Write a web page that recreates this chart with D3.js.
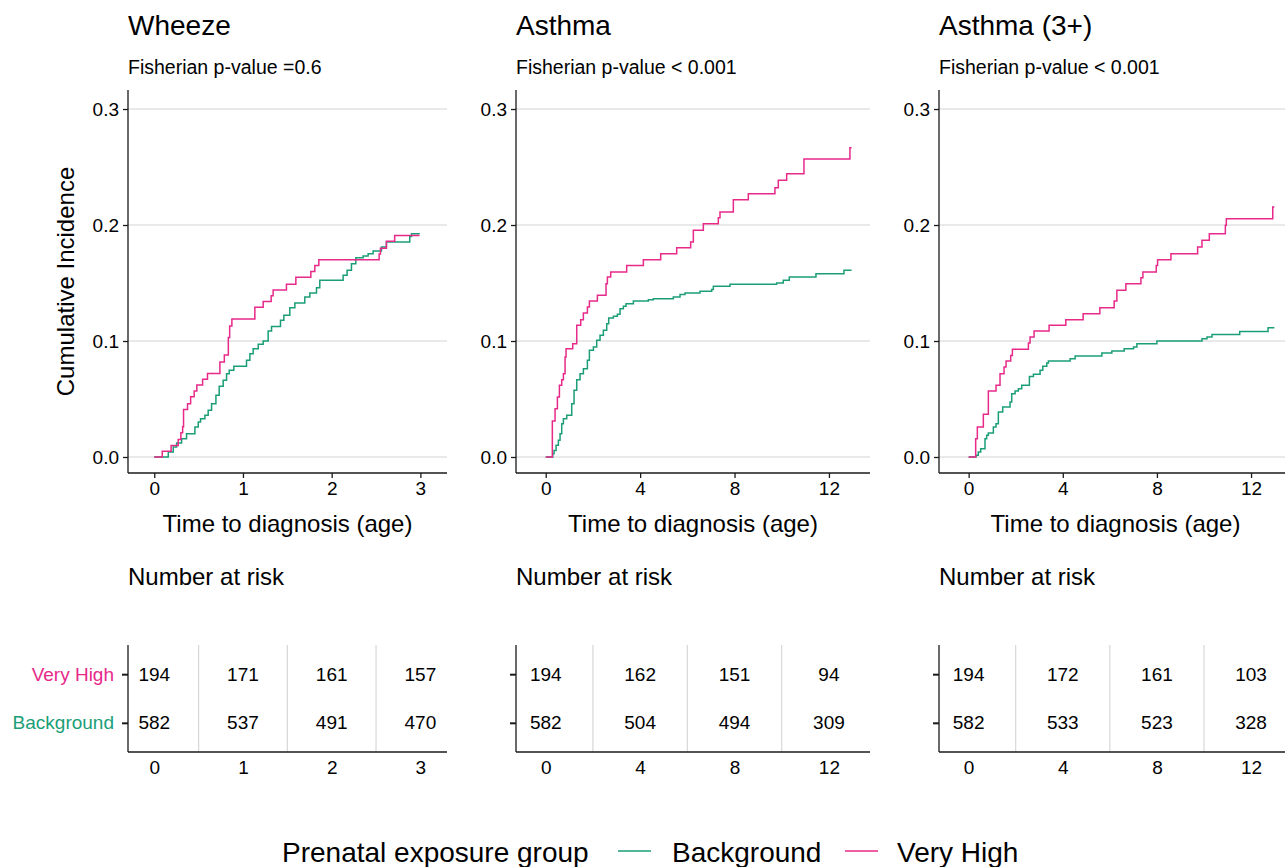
<!DOCTYPE html>
<html><head><meta charset="utf-8">
<script src="https://cdn.jsdelivr.net/npm/d3@7"></script>
<style>
body{margin:0;background:#fff}
svg{display:block}
text{font-family:"Liberation Sans",Arial,Helvetica,sans-serif}
</style>
</head><body>
<svg id="chart" width="1285" height="867"></svg>
<script>
// ---------------- DATA ----------------
const groups = ["Background", "Very High"];
const groupColors = ["#1B9E77", "#E7298A"];
const panelTitles = ["Wheeze", "Asthma", "Asthma (3+)"];
const panelSubtitles = ["Fisherian p-value =0.6", "Fisherian p-value < 0.001", "Fisherian p-value < 0.001"];
const yTicks = [0, 0.1, 0.2, 0.3];
const xTicksWheeze = [0, 1, 2, 3];
const xTicksAsthma = [0, 4, 8, 12];

// cumulative incidence step points [time, CI]
const wheezeVeryHigh = [[0,0],[0.09,0.005],[0.19,0.010],[0.27,0.015],[0.30,0.021],[0.32,0.026],[0.33,0.041],[0.375,0.046],[0.41,0.052],[0.45,0.057],[0.48,0.062],[0.545,0.067],[0.60,0.072],[0.74,0.082],[0.79,0.088],[0.835,0.103],[0.85,0.113],[0.875,0.119],[1.134,0.129],[1.228,0.134],[1.318,0.139],[1.34,0.144],[1.49,0.149],[1.596,0.155],[1.765,0.160],[1.81,0.165],[1.855,0.170],[2.535,0.175],[2.55,0.180],[2.617,0.186],[2.71,0.191],[2.99,0.191]];
const wheezeBackground = [[0,0],[0.158,0.0043],[0.214,0.0086],[0.252,0.0121],[0.308,0.0158],[0.364,0.0201],[0.458,0.0259],[0.496,0.0302],[0.522,0.033],[0.571,0.0359],[0.608,0.0402],[0.646,0.046],[0.695,0.0532],[0.732,0.0609],[0.777,0.0661],[0.815,0.0718],[0.845,0.0747],[0.897,0.0782],[1.04,0.0833],[1.078,0.0891],[1.115,0.0934],[1.172,0.0971],[1.228,0.1],[1.284,0.1086],[1.322,0.1126],[1.423,0.1178],[1.461,0.1221],[1.528,0.1287],[1.585,0.1328],[1.697,0.1379],[1.754,0.1414],[1.829,0.146],[1.866,0.1523],[2.129,0.1566],[2.174,0.1609],[2.223,0.1667],[2.272,0.1718],[2.354,0.1733],[2.411,0.1753],[2.467,0.1776],[2.561,0.181],[2.617,0.1853],[2.88,0.1902],[2.90,0.1925],[2.993,0.1925]];

const asthmaVeryHigh = [[0,0],[0.28,0.031],[0.395,0.0417],[0.494,0.0517],[0.579,0.0618],[0.678,0.0667],[0.748,0.0718],[0.819,0.0862],[0.861,0.0934],[1.144,0.0977],[1.313,0.1135],[1.482,0.1184],[1.595,0.1241],[1.765,0.1293],[1.85,0.1345],[2.188,0.1394],[2.555,0.1494],[2.612,0.1552],[2.753,0.1595],[3.43,0.1652],[4.137,0.1701],[4.871,0.1753],[5.549,0.1805],[6.141,0.1853],[6.254,0.1954],[6.678,0.2011],[7.313,0.2063],[7.384,0.2112],[7.949,0.2218],[8.584,0.227],[9.713,0.2322],[9.855,0.2385],[10.208,0.2443],[10.942,0.2569],[12.89,0.2667],[12.96,0.2667]];
const asthmaBackground = [[0,0],[0.296,0.0029],[0.353,0.0057],[0.438,0.0101],[0.536,0.0144],[0.607,0.0201],[0.678,0.0287],[0.748,0.033],[0.889,0.0359],[1.101,0.046],[1.2,0.0575],[1.313,0.0667],[1.454,0.0718],[1.595,0.0761],[1.765,0.0833],[1.85,0.092],[2.019,0.0948],[2.16,0.1006],[2.301,0.1049],[2.442,0.1092],[2.584,0.1149],[2.668,0.1198],[2.866,0.1213],[3.035,0.123],[3.148,0.1279],[3.29,0.1299],[3.402,0.1322],[3.713,0.1345],[4.348,0.1356],[4.56,0.1365],[5.407,0.1379],[5.69,0.1402],[5.901,0.1414],[6.537,0.1428],[7.031,0.1443],[7.102,0.1471],[7.808,0.1489],[9.784,0.15],[10.066,0.1523],[10.32,0.1552],[11.45,0.158],[12.636,0.1609],[12.96,0.1609]];

const asthma3VeryHigh = [[0,0],[0.298,0.0158],[0.369,0.0259],[0.624,0.0368],[0.837,0.0569],[1.163,0.0618],[1.333,0.0718],[1.504,0.0776],[1.589,0.0828],[1.787,0.0876],[1.858,0.0928],[2.539,0.0983],[2.61,0.1034],[2.78,0.1086],[3.418,0.1135],[4.128,0.1184],[4.865,0.1236],[5.574,0.1287],[6.184,0.1345],[6.298,0.1437],[6.681,0.1494],[7.319,0.1546],[7.404,0.1595],[7.972,0.1652],[8.028,0.1701],[8.596,0.1753],[9.73,0.181],[9.915,0.1868],[10.227,0.1925],[10.908,0.1997],[10.95,0.2055],[12.922,0.2155],[12.99,0.2155]];
const asthma3Background = [[0,0],[0.312,0.0014],[0.411,0.0043],[0.511,0.0072],[0.695,0.0158],[0.766,0.0187],[0.837,0.0207],[1.05,0.0259],[1.163,0.0287],[1.262,0.0388],[1.447,0.0431],[1.759,0.0474],[1.83,0.0546],[1.972,0.0569],[2.113,0.0589],[2.255,0.0618],[2.582,0.0695],[2.752,0.0713],[3.035,0.0747],[3.149,0.0782],[3.319,0.081],[3.39,0.0828],[4.312,0.0848],[4.525,0.0871],[5.66,0.0897],[6.085,0.0914],[6.61,0.0934],[7.007,0.0948],[7.149,0.0977],[8.0,0.1],[9.915,0.102],[10.128,0.1034],[10.34,0.1057],[11.518,0.1083],[12.723,0.1115],[12.99,0.1115]];

// number at risk (rows: Very High, Background)
const riskWheezeVeryHigh = [194, 171, 161, 157];
const riskWheezeBackground = [582, 537, 491, 470];
const riskAsthmaVeryHigh = [194, 162, 151, 94];
const riskAsthmaBackground = [582, 504, 494, 309];
const riskAsthma3VeryHigh = [194, 172, 161, 103];
const riskAsthma3Background = [582, 533, 523, 328];

// ---------------- LAYOUT ----------------
const svg = d3.select("#chart");
const panels = [
  {x0:128, x1:447, dom:[-0.296, 3.3], ticks:xTicksWheeze, bg:wheezeBackground, vh:wheezeVeryHigh, rVH:riskWheezeVeryHigh, rBG:riskWheezeBackground, ylab:true},
  {x0:516, x1:870, dom:[-1.26, 13.74], ticks:xTicksAsthma, bg:asthmaBackground, vh:asthmaVeryHigh, rVH:riskAsthmaVeryHigh, rBG:riskAsthmaBackground, ylab:false},
  {x0:939, x1:1292, dom:[-1.26, 13.74], ticks:xTicksAsthma, bg:asthma3Background, vh:asthma3VeryHigh, rVH:riskAsthma3VeryHigh, rBG:riskAsthma3Background, ylab:false}
];
const plotTop = 90, plotBottom = 473;
const y = d3.scaleLinear().domain([-0.0138, 0.3164]).range([plotBottom, plotTop]);
const riskTop = 645, riskBottom = 752;
const riskRows = ["Background", "Very High"];
const yRisk = d3.scalePoint().domain(riskRows).range([riskBottom, riskTop]).padding(0.6);
const gridCol = "#D4D4D4";
const axisCol = "#1a1a1a";
const textCol = "#000";

panels.forEach((p, i) => {
  const x = d3.scaleLinear().domain(p.dom).range([p.x0, p.x1]);
  const g = svg.append("g");

  // titles
  g.append("text").attr("x", p.x0).attr("y", 35).attr("font-size", 28).attr("fill", textCol).text(panelTitles[i]);
  g.append("text").attr("x", p.x0).attr("y", 74).attr("font-size", 19.5).attr("fill", textCol).text(panelSubtitles[i]);

  // gridlines
  g.selectAll(".gy").data(yTicks).join("line")
    .attr("x1", p.x0).attr("x2", p.x1)
    .attr("y1", d => y(d)).attr("y2", d => y(d))
    .attr("stroke", gridCol).attr("stroke-width", 1.1);

  // curves
  const line = d3.line().x(d => x(d[0])).y(d => y(d[1])).curve(d3.curveStepAfter);
  [p.bg, p.vh].forEach((ser, k) => {
    g.append("path").datum(ser).attr("d", line)
      .attr("fill", "none").attr("stroke", groupColors[k]).attr("stroke-width", 1.5);
  });

  // axes
  const yAxis = g.append("g").attr("transform", `translate(${p.x0},0)`)
    .call(d3.axisLeft(y).tickValues(yTicks).tickFormat(d3.format(".1f")).tickSize(5).tickPadding(4));
  yAxis.select(".domain").attr("d", `M0,${plotTop}V${plotBottom}`).attr("stroke", axisCol).attr("stroke-width", 1.3);
  yAxis.selectAll(".tick line").attr("stroke", axisCol).attr("stroke-width", 1.3);
  yAxis.selectAll(".tick text").attr("font-size", 19).attr("fill", textCol).attr("font-family", null);

  const xAxis = g.append("g").attr("transform", `translate(0,${plotBottom})`)
    .call(d3.axisBottom(x).tickValues(p.ticks).tickFormat(d3.format("d")).tickSize(5).tickPadding(4));
  xAxis.select(".domain").attr("d", `M${p.x0},0H${p.x1}`).attr("stroke", axisCol).attr("stroke-width", 1.3);
  xAxis.selectAll(".tick line").attr("stroke", axisCol).attr("stroke-width", 1.3);
  xAxis.selectAll(".tick text").attr("font-size", 19).attr("fill", textCol).attr("font-family", null);

  g.append("text").attr("x", (p.x0 + p.x1) / 2).attr("y", 532).attr("text-anchor", "middle")
    .attr("font-size", 24).attr("fill", textCol).text("Time to diagnosis (age)");

  if (p.ylab) {
    g.append("text").attr("transform", `translate(74,${(plotTop + plotBottom) / 2}) rotate(-90)`)
      .attr("text-anchor", "middle").attr("font-size", 24).attr("fill", textCol).text("Cumulative Incidence");
  }

  // number at risk
  g.append("text").attr("x", p.x0).attr("y", 585).attr("font-size", 24).attr("fill", textCol).text("Number at risk");

  const mids = d3.pairs(p.ticks).map(([a, b]) => (a + b) / 2);
  g.selectAll(".gv").data(mids).join("line")
    .attr("x1", d => x(d)).attr("x2", d => x(d))
    .attr("y1", riskTop).attr("y2", riskBottom)
    .attr("stroke", gridCol).attr("stroke-width", 1.1);

  const rows = [{name:"Very High", vals:p.rVH}, {name:"Background", vals:p.rBG}];
  rows.forEach(r => {
    g.selectAll(null).data(r.vals).join("text")
      .attr("x", (d, j) => x(p.ticks[j])).attr("y", yRisk(r.name)).attr("dy", "0.35em")
      .attr("text-anchor", "middle").attr("font-size", 19).attr("fill", textCol).text(d => d);
  });

  const ryAxis = g.append("g").attr("transform", `translate(${p.x0},0)`)
    .call(d3.axisLeft(yRisk).tickSize(6).tickPadding(8).tickFormat(d => p.ylab ? d : ""));
  ryAxis.select(".domain").attr("d", `M0,${riskTop}V${riskBottom}`).attr("stroke", axisCol).attr("stroke-width", 1.3);
  ryAxis.selectAll(".tick line").attr("stroke", axisCol).attr("stroke-width", 2);
  ryAxis.selectAll(".tick text").attr("font-size", 19).attr("font-family", null)
    .attr("fill", d => groupColors[groups.indexOf(d)]);

  const rxAxis = g.append("g").attr("transform", `translate(0,${riskBottom})`)
    .call(d3.axisBottom(x).tickValues(p.ticks).tickFormat(d3.format("d")).tickSize(0).tickPadding(9));
  rxAxis.select(".domain").attr("d", `M${p.x0},0H${p.x1}`).attr("stroke", axisCol).attr("stroke-width", 1.3);
  rxAxis.selectAll(".tick text").attr("font-size", 19).attr("fill", textCol).attr("font-family", null);
});

// legend
const leg = svg.append("g");
leg.append("text").attr("x", 282).attr("y", 862).attr("font-size", 28).attr("fill", textCol).text("Prenatal exposure group");
const legItems = [{name:groups[0], col:groupColors[0], lx:618, tx:672}, {name:groups[1], col:groupColors[1], lx:845, tx:897}];
legItems.forEach(it => {
  leg.append("line").attr("x1", it.lx).attr("x2", it.lx + 33).attr("y1", 851).attr("y2", 851)
    .attr("stroke", it.col).attr("stroke-width", 1.5);
  leg.append("text").attr("x", it.tx).attr("y", 862).attr("font-size", 28).attr("fill", textCol).text(it.name);
});
</script>
</body></html>
